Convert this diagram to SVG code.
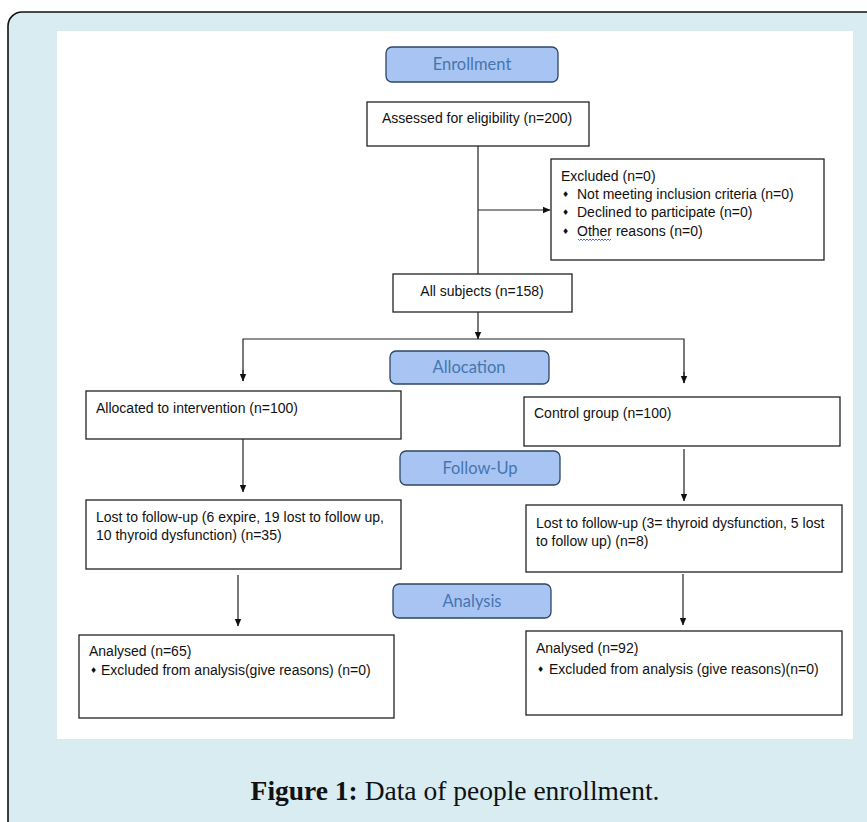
<svg xmlns="http://www.w3.org/2000/svg" width="867" height="822" viewBox="0 0 867 822">
<style>
.box{fill:#ffffff;stroke:#222222;stroke-width:1.3}
.phase{fill:#a7c4f2;stroke:#2d4566;stroke-width:1.3}
.ptxt{font-family:Lato,"Open Sans",sans-serif;font-size:16.5px;fill:#4675b0;text-anchor:middle}
.t{font-family:"Liberation Sans",Arial,sans-serif;font-size:14px;fill:#111111}
.b{font-family:"DejaVu Sans",sans-serif;font-size:8px;fill:#111111}
.line{fill:none;stroke:#222222;stroke-width:1.2}
.cap{font-family:"Liberation Serif","Times New Roman",serif;font-size:27.5px;fill:#111111}
.squig{fill:none;stroke:#3b4fc4;stroke-width:0.9}
</style>
<defs>
<marker id="ah" markerWidth="8" markerHeight="8" refX="7" refY="4" orient="auto" markerUnits="userSpaceOnUse">
<path d="M0,0.8 L7.5,4 L0,7.2 Z" fill="#111111"/>
</marker>
</defs>
<rect x="0" y="0" width="867" height="822" fill="#ffffff"/>
<rect x="8" y="12" width="900" height="840" rx="14" ry="14" fill="#d8ecf1" stroke="#111111" stroke-width="1.6"/>
<rect x="57" y="31" width="796" height="708" fill="#ffffff"/>

<g id="connectors">
<line class="line" x1="478" y1="146" x2="478" y2="274"/>
<line class="line" x1="478" y1="210" x2="550" y2="210" marker-end="url(#ah)"/>
<line class="line" x1="478" y1="312" x2="478" y2="339" marker-end="url(#ah)"/>
<polyline class="line" points="243,381 243,339 684,339 684,383"/>
<line class="line" x1="243" y1="370" x2="243" y2="381" marker-end="url(#ah)"/>
<line class="line" x1="684" y1="372" x2="684" y2="383" marker-end="url(#ah)"/>
<line class="line" x1="243" y1="439" x2="243" y2="492" marker-end="url(#ah)"/>
<line class="line" x1="684" y1="449" x2="684" y2="501" marker-end="url(#ah)"/>
<line class="line" x1="238" y1="575" x2="238" y2="626" marker-end="url(#ah)"/>
<line class="line" x1="683" y1="574" x2="683" y2="625" marker-end="url(#ah)"/>
</g>

<g id="enrollment">
<rect class="phase" x="386" y="47" width="172" height="35" rx="6"/>
<text class="ptxt" x="472" y="70">Enrollment</text>
</g>

<g id="assessed">
<rect class="box" x="367" y="102" width="222" height="44"/>
<text class="t" x="382" y="123">Assessed for eligibility (n=200)</text>
</g>

<g id="excluded">
<rect class="box" x="551" y="159" width="273" height="101"/>
<text class="t" x="561" y="181">Excluded (n=0)</text>
<text class="b" x="562" y="197">♦</text>
<text class="t" x="577" y="199">Not meeting inclusion criteria (n=0)</text>
<text class="b" x="562" y="215">♦</text>
<text class="t" x="577" y="217">Declined to participate (n=0)</text>
<text class="b" x="562" y="234">♦</text>
<text class="t" x="577" y="236">Other reasons (n=0)</text>
<path class="squig" d="M578,239 l1.5,1.5 l1.5,-1.5 l1.5,1.5 l1.5,-1.5 l1.5,1.5 l1.5,-1.5 l1.5,1.5 l1.5,-1.5 l1.5,1.5 l1.5,-1.5 l1.5,1.5 l1.5,-1.5 l1.5,1.5 l1.5,-1.5 l1.5,1.5 l1.5,-1.5 l1.5,1.5 l1.5,-1.5 l1.5,1.5 l1.5,-1.5 l1.5,1.5 l1.5,-1.5"/>
</g>

<g id="allsubjects">
<rect class="box" x="393" y="274" width="179" height="38"/>
<text class="t" x="482" y="296" text-anchor="middle">All subjects (n=158)</text>
</g>

<g id="allocation">
<rect class="phase" x="390" y="351" width="159" height="33" rx="6"/>
<text class="ptxt" x="469" y="373">Allocation</text>
</g>

<g id="intervention">
<rect class="box" x="86" y="391" width="315" height="48"/>
<text class="t" x="96" y="413">Allocated to intervention (n=100)</text>
</g>

<g id="control">
<rect class="box" x="524" y="397" width="316" height="49"/>
<text class="t" x="534" y="418">Control group (n=100)</text>
</g>

<g id="followup">
<rect class="phase" x="400" y="451" width="160" height="34" rx="6"/>
<text class="ptxt" x="480" y="474">Follow-Up</text>
</g>

<g id="lost-left">
<rect class="box" x="86" y="500" width="315" height="69"/>
<text class="t" x="96" y="522">Lost to follow-up (6 expire, 19 lost to follow up,</text>
<text class="t" x="96" y="540">10 thyroid dysfunction) (n=35)</text>
</g>

<g id="lost-right">
<rect class="box" x="526" y="505" width="316" height="67"/>
<text class="t" x="536" y="528">Lost to follow-up (3= thyroid dysfunction, 5 lost</text>
<text class="t" x="536" y="546">to follow up) (n=8)</text>
</g>

<g id="analysis">
<rect class="phase" x="393" y="584" width="158" height="34" rx="6"/>
<text class="ptxt" x="472" y="607">Analysis</text>
</g>

<g id="analysed-left">
<rect class="box" x="79" y="635" width="315" height="83"/>
<text class="t" x="89" y="656">Analysed (n=65)</text>
<path class="squig" d="M188,657 l1,2 l1.2,-1.2"/>
<text class="b" x="90" y="673">♦</text>
<text class="t" x="101" y="675">Excluded from analysis(give reasons) (n=0)</text>
</g>

<g id="analysed-right">
<rect class="box" x="526" y="631" width="316" height="84"/>
<text class="t" x="536" y="653">Analysed (n=92)</text>
<path class="squig" d="M635,654 l1,2 l1.2,-1.2"/>
<text class="b" x="537" y="672">♦</text>
<text class="t" x="549" y="674">Excluded from analysis (give reasons)(n=0)</text>
</g>

<g id="caption">
<text class="cap" x="455" y="800" text-anchor="middle"><tspan font-weight="bold">Figure 1:</tspan> Data of people enrollment.</text>
</g>
</svg>
